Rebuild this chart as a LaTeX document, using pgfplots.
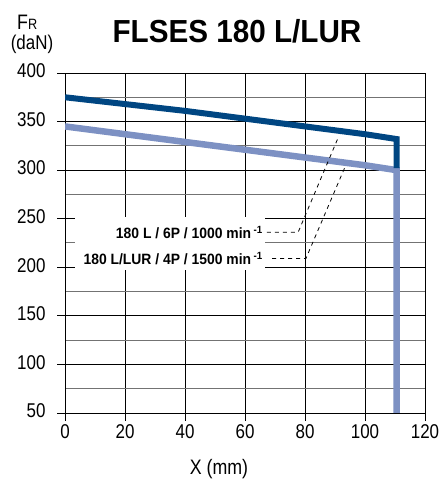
\documentclass[border=0pt]{standalone}
\usepackage{fontspec}
\setmainfont{Liberation Sans}
\newfontfamily\narrowsf[FakeStretch=0.85]{Liberation Sans}
\newfontfamily\titlesf[FakeStretch=0.93]{Liberation Sans}
\usepackage{pgfplots}
\pgfplotsset{compat=1.18}

\definecolor{darkline}{RGB}{0,70,130}
\definecolor{lightline}{RGB}{125,145,195}

\begin{document}
\begin{tikzpicture}[x=1bp,y=1bp]
\useasboundingbox (0,0) rectangle (441,480);

\node[anchor=base, font=\titlesf\bfseries\fontsize{32}{36}\selectfont] at (237,437) {FLSES 180 L/LUR};
\node[anchor=base west, inner sep=0pt] at (17,450) {\narrowsf\fontsize{21}{24}\selectfont F\fontsize{15}{18}\selectfont R};
\node[anchor=base, inner sep=0pt, font=\narrowsf\fontsize{20}{22}\selectfont] at (32,430) {(daN)};
\node[anchor=base, inner sep=0pt, font=\narrowsf\fontsize{21}{24}\selectfont] at (219,5) {X (mm)};

\begin{axis}[
  at={(65bp,67bp)}, anchor=south west,
  scale only axis, width=360bp, height=340bp,
  xmin=0, xmax=120, ymin=50, ymax=400,
  xtick={0,20,...,120}, ytick={50,100,...,400},
  minor ytick={75,125,...,375},
  grid=both,
  major grid style={black, line width=0.8pt},
  minor grid style={black!55, line width=1pt},
  axis line style={black, line width=0.9pt},
  tick pos=left, tick align=outside,
  major tick length=8bp, minor tick length=0pt,
  tick style={black, line width=0.8pt},
  ticklabel style={font=\narrowsf\fontsize{20}{22}\selectfont},
  yticklabel style={xshift=-8bp, yshift=2bp},
  /pgf/number format/assume math mode=true,
  line join=miter,
]

% white panel behind the two labels
\fill[white] (axis cs:3.3,197) rectangle (axis cs:66.7,252);

\addplot[lightline, line width=6.5bp, mark=none]
  coordinates {(0,345)(20,337)(40,329)(60,321)(80,313)(100,305)(110.5,300)(110.5,50)};
\addplot[darkline, line width=6bp, mark=none]
  coordinates {(0,375)(20,368)(40,361)(60,353)(80,345)(100,337)(110.5,332)(110.5,302)};

\addplot[black, line width=0.8pt, dash pattern=on 4bp off 4bp, mark=none]
  coordinates {(67.3,236)(77.7,236)(91,333)};
\addplot[black, line width=0.8pt, dash pattern=on 4bp off 4bp, mark=none]
  coordinates {(69,209)(80.3,209)(93.3,303)};

\node[anchor=east, inner sep=0pt, font=\titlesf\bfseries\fontsize{15}{18}\selectfont]
  at (axis cs:66,236) {180 L / 6P / 1000 min\,\textsuperscript{-1}};
\node[anchor=east, inner sep=0pt, font=\titlesf\bfseries\fontsize{15}{18}\selectfont]
  at (axis cs:66,209) {180 L/LUR / 4P / 1500 min\,\textsuperscript{-1}};
\end{axis}
\end{tikzpicture}
\end{document}
